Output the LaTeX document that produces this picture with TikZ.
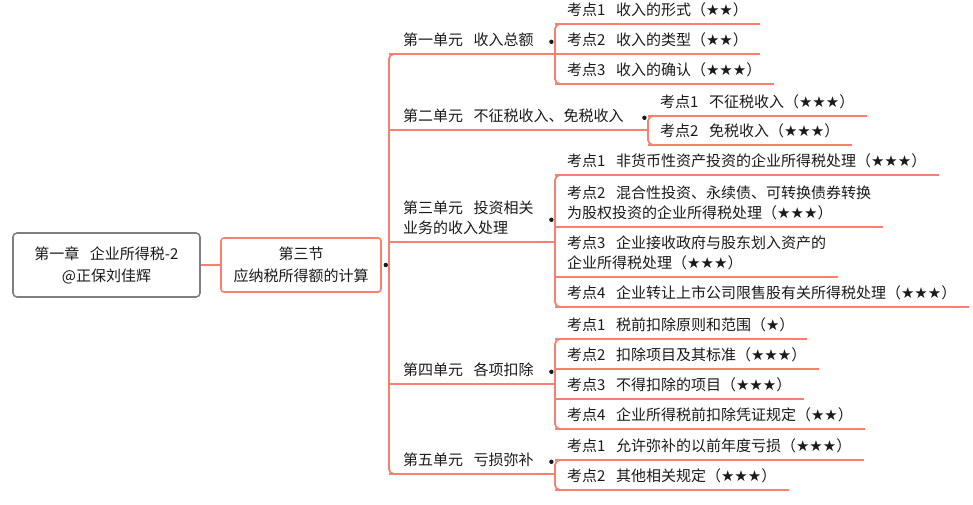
\documentclass[tikz,border=0pt]{standalone}
\usepackage{fontspec}
\setmainfont{Noto Sans CJK SC}
\newfontfamily\symfont{DejaVu Sans}
\usepackage{tikz}
\usepackage{xcolor}
\usetikzlibrary{calc}
\definecolor{branchred}{HTML}{F8806E}
\definecolor{rootgray}{HTML}{7F7F7F}
\definecolor{ink}{HTML}{1A1A1A}
\newcommand{\xing}{{\symfont ★}}
\newcommand{\kgap}{\hspace{10.5pt}}
\newcommand{\kd}[1]{考点#1\kgap}
\tikzset{
  branch/.style={draw=branchred,line width=1.8pt},
  rootbox/.style={draw=rootgray,fill=white,line width=1.6pt,rounded corners=4pt,
                  minimum width=187pt,minimum height=64pt,align=center,
                  text=ink,font=\fontsize{15}{22}\selectfont},
  secbox/.style={draw=branchred,fill=white,line width=1.6pt,rounded corners=3pt,
                 minimum width=160pt,minimum height=54pt,align=center,
                 text=ink,font=\fontsize{15}{22}\selectfont},
  underlined/.style={append after command={
                 (\tikzlastnode.south west) edge[branch] (\tikzlastnode.south east)}},
  unit/.style={anchor=south west,text width=#1,inner xsep=14pt,inner ysep=2pt,
               align=left,text=ink,font=\fontsize{15}{20}\selectfont,
               execute at begin node=\strut,execute at end node=\strut,underlined},
  leaf/.style={anchor=south west,inner xsep=12pt,inner ysep=2pt,
               align=left,text=ink,font=\fontsize{15}{20}\selectfont,
               execute at begin node=\strut,execute at end node=\strut,underlined},
  knot/.style={fill=ink}
}

\begin{document}
\begin{tikzpicture}[x=1pt,y=-1pt]
  \useasboundingbox (0,0) rectangle (973,505);
  % root and section
  \node[rootbox] (root) at (106.5,265) {第一章\kgap 企业所得税-2\\@正保刘佳辉};
  \node[secbox] (sec) at (301,265) {第三节\\应纳税所得额的计算};
  \draw[branch] (root.east) -- (sec.west);
  \fill[knot] ($(sec.east)+(4,0)$) circle (2.2pt);
  % units
  \node[unit=138pt] (u1) at (389,54) {第一单元\kgap 收入总额};
  \node[unit=231pt] (u2) at (389,130) {第二单元\kgap 不征税收入、免税收入};
  \node[unit=138pt] (u3) at (389,242) {第三单元\kgap 投资相关\\业务的收入处理};
  \node[unit=138pt] (u4) at (389,384) {第四单元\kgap 各项扣除};
  \node[unit=138pt] (u5) at (389,474) {第五单元\kgap 亏损弥补};
  \draw[branch,rounded corners=5pt] ($(u1.south west)+(8,0)$) -- (u1.south west)
    -- (u5.south west) -- ($(u5.south west)+(8,0)$);
  \foreach \u in {u1,u2,u3,u4,u5}
    \fill[knot] ($(\u.east)+(-4,0)$) circle (2.2pt);
  % 第一单元
  \foreach \nm/\yy/\txt in {k11/24/{\kd1收入的形式（\xing\xing）},
                            k12/54/{\kd2收入的类型（\xing\xing）},
                            k13/84/{\kd3收入的确认（\xing\xing\xing）}}
    \node[leaf] (\nm) at (555,\yy) {\txt};
  % 第二单元
  \foreach \nm/\yy/\txt in {k21/116/{\kd1不征税收入（\xing\xing\xing）},
                            k22/145/{\kd2免税收入（\xing\xing\xing）}}
    \node[leaf] (\nm) at (648,\yy) {\txt};
  % 第三单元
  \foreach \nm/\yy/\txt in {k31/175/{\kd1非货币性资产投资的企业所得税处理（\xing\xing\xing）},
                            k32/227/{\kd2混合性投资、永续债、可转换债券转换\\为股权投资的企业所得税处理（\xing\xing\xing）},
                            k33/277/{\kd3企业接收政府与股东划入资产的\\企业所得税处理（\xing\xing\xing）},
                            k34/307/{\kd4企业转让上市公司限售股有关所得税处理（\xing\xing\xing）}}
    \node[leaf] (\nm) at (555,\yy) {\txt};
  % 第四单元
  \foreach \nm/\yy/\txt in {k41/339/{\kd1税前扣除原则和范围（\xing）},
                            k42/369/{\kd2扣除项目及其标准（\xing\xing\xing）},
                            k43/399/{\kd3不得扣除的项目（\xing\xing\xing）},
                            k44/429/{\kd4企业所得税前扣除凭证规定（\xing\xing）}}
    \node[leaf] (\nm) at (555,\yy) {\txt};
  % 第五单元
  \foreach \nm/\yy/\txt in {k51/460/{\kd1允许弥补的以前年度亏损（\xing\xing\xing）},
                            k52/490/{\kd2其他相关规定（\xing\xing\xing）}}
    \node[leaf] (\nm) at (555,\yy) {\txt};
  % brackets
  \foreach \a/\b in {k11/k13,k21/k22,k31/k34,k41/k44,k51/k52}
    \draw[branch,rounded corners=5pt] ($(\a.south west)+(8,0)$) -- (\a.south west)
      -- (\b.south west) -- ($(\b.south west)+(8,0)$);
\end{tikzpicture}
\end{document}
